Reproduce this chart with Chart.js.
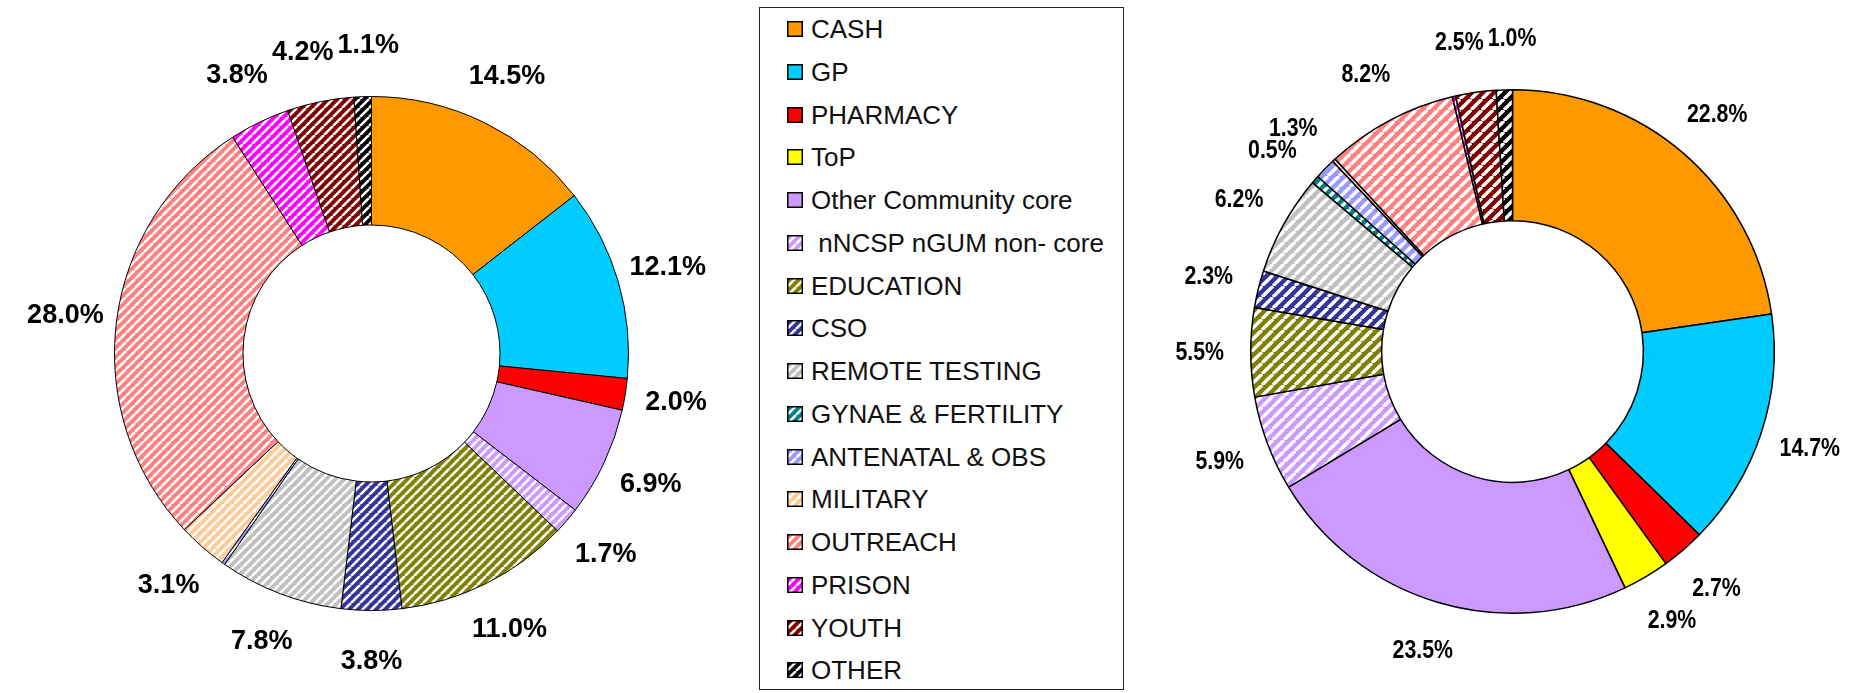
<!DOCTYPE html>
<html><head><meta charset="utf-8">
<script src="https://cdn.jsdelivr.net/npm/chart.js@4/dist/chart.umd.min.js"></script>
<style>
html,body{margin:0;padding:0;background:#fff;}
body{width:1860px;height:693px;overflow:hidden;position:relative;font-family:"Liberation Sans",Arial,sans-serif;}
#c1{position:absolute;left:0;top:0;}
#c2{position:absolute;left:1130px;top:0;}
#legend{position:absolute;left:759px;top:7px;width:365px;height:683px;box-sizing:border-box;border:1.5px solid #222;}
.row{position:absolute;left:0;height:26px;line-height:26px;font-size:26px;color:#111;white-space:pre;}
.row canvas{position:absolute;left:27px;top:5px;}
.row span{position:absolute;left:51px;top:0;}
</style></head>
<body>
<canvas id="c1" width="750" height="693"></canvas>
<div id="legend"></div>
<canvas id="c2" width="730" height="693"></canvas>
<script>
const categories = ['CASH','GP','PHARMACY','ToP','Other Community core',' nNCSP nGUM non- core','EDUCATION','CSO','REMOTE TESTING','GYNAE & FERTILITY','ANTENATAL & OBS','MILITARY','OUTREACH','PRISON','YOUTH','OTHER'];
const leftValues  = [14.5,12.1,2.0,0,6.9,1.7,11.0,3.8,7.8,0,0.2,3.1,28.0,3.8,4.2,1.1];
const rightValues = [22.8,14.7,2.7,2.9,23.5,5.9,5.5,2.3,6.2,0.5,1.3,0.2,8.2,0.2,2.5,1.0];
const colors  = ['#FF9900','#00CCFF','#FF0000','#FFFF00','#CC99FF','#CC99FF','#808000','#333399','#C0C0C0','#008080','#9999FF','#FFCC99','#FF8080','#FF00FF','#800000','#000000'];
const hatched = [false,false,false,false,false,true,true,true,true,true,true,true,true,true,true,true];

function stripe(color, s, lw){
  const c=document.createElement('canvas'); c.width=c.height=s;
  const x=c.getContext('2d');
  x.fillStyle=color; x.fillRect(0,0,s,s);
  x.strokeStyle='#fff'; x.lineWidth=lw;
  x.beginPath();
  [-s,0,s].forEach(o=>{x.moveTo(o,s);x.lineTo(o+s,0);});
  x.stroke();
  return x.createPattern(c,'repeat');
}
function fills(s,lw){ return colors.map((c,i)=>hatched[i]?stripe(c,s,lw):c); }
const fillsL=fills(9,2.6), fillsR=fills(11,3.4);

const labelPlugin={
  id:'outLabels',
  afterDatasetsDraw(chart,args,opts){
    const ctx=chart.ctx, meta=chart.getDatasetMeta(0), vals=chart.data.datasets[0].data;
    ctx.save(); ctx.font=opts.font; ctx.fillStyle='#000'; ctx.textAlign='center'; ctx.textBaseline='middle';
    const items=[]; let cx=0, cy=0, R=0;
    meta.data.forEach((arc,i)=>{
      const v=vals[i]; if(v<0.3) return;
      const p=arc.getProps(['x','y','startAngle','endAngle','outerRadius'],true);
      cx=p.x; cy=p.y; R=p.outerRadius;
      const t=v.toFixed(1)+'%';
      items.push({t, ang:(p.startAngle+p.endAngle)/2, w:ctx.measureText(t).width*opts.sx, h:opts.h});
    });
    const d=R*opts.k;
    const box=a=>{const x=cx+d*Math.cos(a.ang), y=cy+d*Math.sin(a.ang);
      return {x,y,x1:x-a.w/2,x2:x+a.w/2,y1:y-a.h/2,y2:y+a.h/2};};
    const pad=3;
    for(let it=0; it<800; it++){
      let moved=false;
      for(let j=0;j<items.length;j++){
        const a=items[j], b=items[(j+1)%items.length];
        const A=box(a), B=box(b);
        if(A.x1<B.x2+pad && B.x1<A.x2+pad && A.y1<B.y2+pad && B.y1<A.y2+pad){
          a.ang-=0.003; b.ang+=0.003; moved=true;
        }
      }
      if(!moved) break;
    }
    items.forEach(a=>{
      const b=box(a);
      ctx.save(); ctx.translate(b.x,b.y); ctx.scale(opts.sx,1); ctx.fillText(a.t,0,0); ctx.restore();
    });
    ctx.restore();
  }
};

function donut(id,values,bg,pad,bw,lab){
  return new Chart(document.getElementById(id),{
    type:'doughnut',
    data:{labels:categories,datasets:[{data:values,backgroundColor:bg,borderColor:'#000',borderWidth:bw}]},
    options:{responsive:false,animation:false,cutout:'50%',layout:{padding:pad},
      plugins:{legend:{display:false},tooltip:{enabled:false},outLabels:lab}},
    plugins:[labelPlugin]
  });
}
donut('c1',leftValues,fillsL,{left:114,top:96,right:121,bottom:82},1,
  {font:'bold 27px "Liberation Sans", Arial, sans-serif',k:1.2,sx:1,h:20});
donut('c2',rightValues,fillsR,{left:120,top:89,right:85,bottom:79},1.5,
  {font:'bold 26px "Liberation Sans", Arial, sans-serif',k:1.195,sx:0.82,h:19});

const leg=document.getElementById('legend');
categories.forEach((name,i)=>{
  const row=document.createElement('div'); row.className='row';
  row.style.top=(28-7-13+i*42.75)+'px';
  const sw=document.createElement('canvas'); sw.width=16; sw.height=16;
  const x=sw.getContext('2d');
  x.fillStyle=fillsL[i]; x.fillRect(0,0,16,16);
  x.strokeStyle='#000'; x.lineWidth=1.5; x.strokeRect(0.75,0.75,14.5,14.5);
  const t=document.createElement('span'); t.textContent=name;
  row.appendChild(sw); row.appendChild(t); leg.appendChild(row);
});
</script>
</body></html>
